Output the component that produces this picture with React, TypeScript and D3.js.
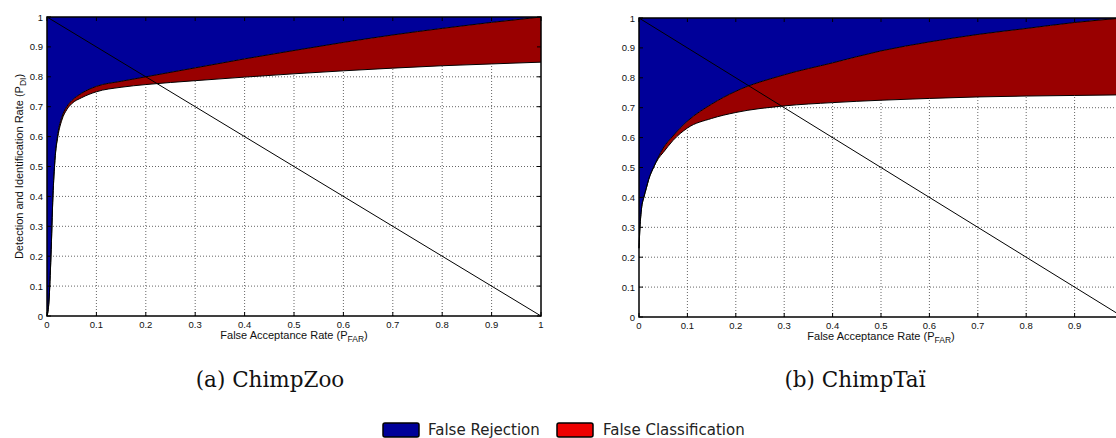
import React from "react";
import * as d3 from "d3";

// ChimpZoo: false acceptance rate vs. detection (upper) and detection+identification (lower)
const FAR_ZOO = [0, 0.004, 0.008, 0.012, 0.016, 0.022, 0.03, 0.04, 0.05, 0.07, 0.1, 0.15, 0.2, 0.3, 0.4, 0.5, 0.6, 0.7, 0.8, 0.9, 1.0];
const DET_ZOO = [0, 0.05, 0.2, 0.4, 0.52, 0.61, 0.665, 0.7, 0.72, 0.745, 0.768, 0.785, 0.8, 0.83, 0.86, 0.888, 0.915, 0.94, 0.962, 0.982, 1.0];
const DI_ZOO = [0, 0.05, 0.2, 0.4, 0.52, 0.6, 0.655, 0.69, 0.71, 0.73, 0.75, 0.765, 0.774, 0.787, 0.799, 0.81, 0.82, 0.829, 0.837, 0.843, 0.849];

// ChimpTaï
const FAR_TAI = [0, 0.002, 0.005, 0.01, 0.015, 0.02, 0.03, 0.04, 0.05, 0.07, 0.1, 0.15, 0.2, 0.3, 0.4, 0.5, 0.6, 0.7, 0.8, 0.9, 1.0];
const DET_TAI = [0.23, 0.3, 0.36, 0.4, 0.43, 0.46, 0.5, 0.535, 0.565, 0.605, 0.655, 0.712, 0.755, 0.81, 0.85, 0.89, 0.92, 0.945, 0.965, 0.985, 1.0];
const DI_TAI = [0.23, 0.3, 0.36, 0.4, 0.43, 0.46, 0.5, 0.53, 0.55, 0.59, 0.632, 0.664, 0.684, 0.706, 0.717, 0.725, 0.731, 0.736, 0.739, 0.741, 0.743];

const TICKS = [0, 0.1, 0.2, 0.3, 0.4, 0.5, 0.6, 0.7, 0.8, 0.9, 1];
const LEGEND = ["False Rejection", "False Classification"];

const W = 1116;
const H = 438;
const BLUE = "#000099";
const RED = "#990000";
const TICK_FONT = "'Liberation Sans', Arial, sans-serif";

type PanelProps = {
  far: number[];
  det: number[];
  di: number[];
  left: number;
  width: number;
  top: number;
  height: number;
  yLabel: boolean;
  caption: string;
  captionX: number;
};

function fmt(v: number) {
  return v === 0 ? "0" : v === 1 ? "1" : d3.format(".1f")(v);
}

function Panel({ far, det, di, left, width, top, height, yLabel, caption, captionX }: PanelProps) {
  const x = d3.scaleLinear().domain([0, 1]).range([left, left + width]);
  const y = d3.scaleLinear().domain([0, 1]).range([top + height, top]);
  const idx = d3.range(far.length);

  const blueArea = d3
    .area<number>()
    .x((i) => x(far[i]))
    .y0((i) => y(det[i]))
    .y1(() => y(1))
    .curve(d3.curveMonotoneX);
  const redArea = d3
    .area<number>()
    .x((i) => x(far[i]))
    .y0((i) => y(di[i]))
    .y1((i) => y(det[i]))
    .curve(d3.curveMonotoneX);
  const detLine = d3
    .line<number>()
    .x((i) => x(far[i]))
    .y((i) => y(det[i]))
    .curve(d3.curveMonotoneX);
  const diLine = d3
    .line<number>()
    .x((i) => x(far[i]))
    .y((i) => y(di[i]))
    .curve(d3.curveMonotoneX);

  const x0 = x(0), x1 = x(1), y0 = y(0), y1 = y(1);
  const cx = (x0 + x1) / 2;
  const cy = (y0 + y1) / 2;
  // tick labels that would fall past the page edge are left out
  const xLabels = TICKS.filter((t) => x(t) <= W - 4);

  return (
    <g>
      {/* dotted grid */}
      {TICKS.slice(1, -1).map((t) => (
        <g key={"g" + t}>
          <line x1={x(t)} x2={x(t)} y1={y0} y2={y1} stroke="#555" strokeWidth={0.9} strokeDasharray="1,2" />
          <line x1={x0} x2={x1} y1={y(t)} y2={y(t)} stroke="#555" strokeWidth={0.9} strokeDasharray="1,2" />
        </g>
      ))}
      <path d={blueArea(idx) || ""} fill={BLUE} />
      <path d={redArea(idx) || ""} fill={RED} />
      <path d={detLine(idx) || ""} fill="none" stroke="#000" strokeWidth={1} />
      <path d={diLine(idx) || ""} fill="none" stroke="#000" strokeWidth={1} />
      {/* equal error line */}
      <line x1={x(0)} y1={y(1)} x2={x(1)} y2={y(0)} stroke="#000" strokeWidth={1} />
      {/* ticks on all four sides */}
      {TICKS.map((t) => (
        <g key={"t" + t} stroke="#000" strokeWidth={1}>
          <line x1={x(t)} x2={x(t)} y1={y0} y2={y0 - 4} />
          <line x1={x(t)} x2={x(t)} y1={y1} y2={y1 + 4} />
          <line x1={x0} x2={x0 + 4} y1={y(t)} y2={y(t)} />
          <line x1={x1} x2={x1 - 4} y1={y(t)} y2={y(t)} />
        </g>
      ))}
      <rect x={x0} y={y1} width={x1 - x0} height={y0 - y1} fill="none" stroke="#000" strokeWidth={1.5} />
      {/* tick labels */}
      {xLabels.map((t) => (
        <text key={"xl" + t} x={x(t)} y={y0 + 12} fontSize={9.5} fontFamily={TICK_FONT} textAnchor="middle" fill="#111">
          {fmt(t)}
        </text>
      ))}
      {TICKS.map((t) => (
        <text key={"yl" + t} x={x0 - 4} y={y(t) + 3.5} fontSize={9.5} fontFamily={TICK_FONT} textAnchor="end" fill="#111">
          {fmt(t)}
        </text>
      ))}
      {/* axis titles */}
      <text x={cx} y={y0 + 23} fontSize={11} fontFamily={TICK_FONT} textAnchor="middle" fill="#111">
        False Acceptance Rate (P
        <tspan fontSize={8.5} dy={3}>FAR</tspan>
        <tspan dy={-3}>)</tspan>
      </text>
      {yLabel && (
        <text
          transform={`translate(${x0 - 24},${cy}) rotate(-90)`}
          fontSize={11}
          fontFamily={TICK_FONT}
          textAnchor="middle"
          fill="#111"
        >
          Detection and Identification Rate (P
          <tspan fontSize={8.5} dy={3}>DI</tspan>
          <tspan dy={-3}>)</tspan>
        </text>
      )}
      <text x={captionX} y={387} fontSize={21.5} fontFamily="'DejaVu Serif', 'Liberation Serif', serif" textAnchor="middle" fill="#111">
        {caption}
      </text>
    </g>
  );
}

export default function App() {
  return (
    <svg width={W} height={H} style={{ position: "absolute", left: 0, top: 0, background: "#fff" }}>
      <rect width={W} height={H} fill="#fff" />
      <Panel far={FAR_ZOO} det={DET_ZOO} di={DI_ZOO} left={47} width={494} top={17} height={299} yLabel caption="(a) ChimpZoo" captionX={270} />
      <Panel far={FAR_TAI} det={DET_TAI} di={DI_TAI} left={639} width={484} top={18} height={299} yLabel={false} caption="(b) ChimpTaï" captionX={855} />
      {/* legend */}
      <g fontFamily="'DejaVu Sans', 'Open Sans', sans-serif" fontSize={15} fill="#222">
        <rect x={383} y={423} width={36} height={14} rx={2} fill={BLUE} stroke="#000" strokeWidth={1.5} />
        <text x={428} y={435}>{LEGEND[0]}</text>
        <rect x={557} y={423} width={36} height={14} rx={2} fill="#ee0000" stroke="#000" strokeWidth={1.5} />
        <text x={603} y={435}>{LEGEND[1]}</text>
      </g>
    </svg>
  );
}
